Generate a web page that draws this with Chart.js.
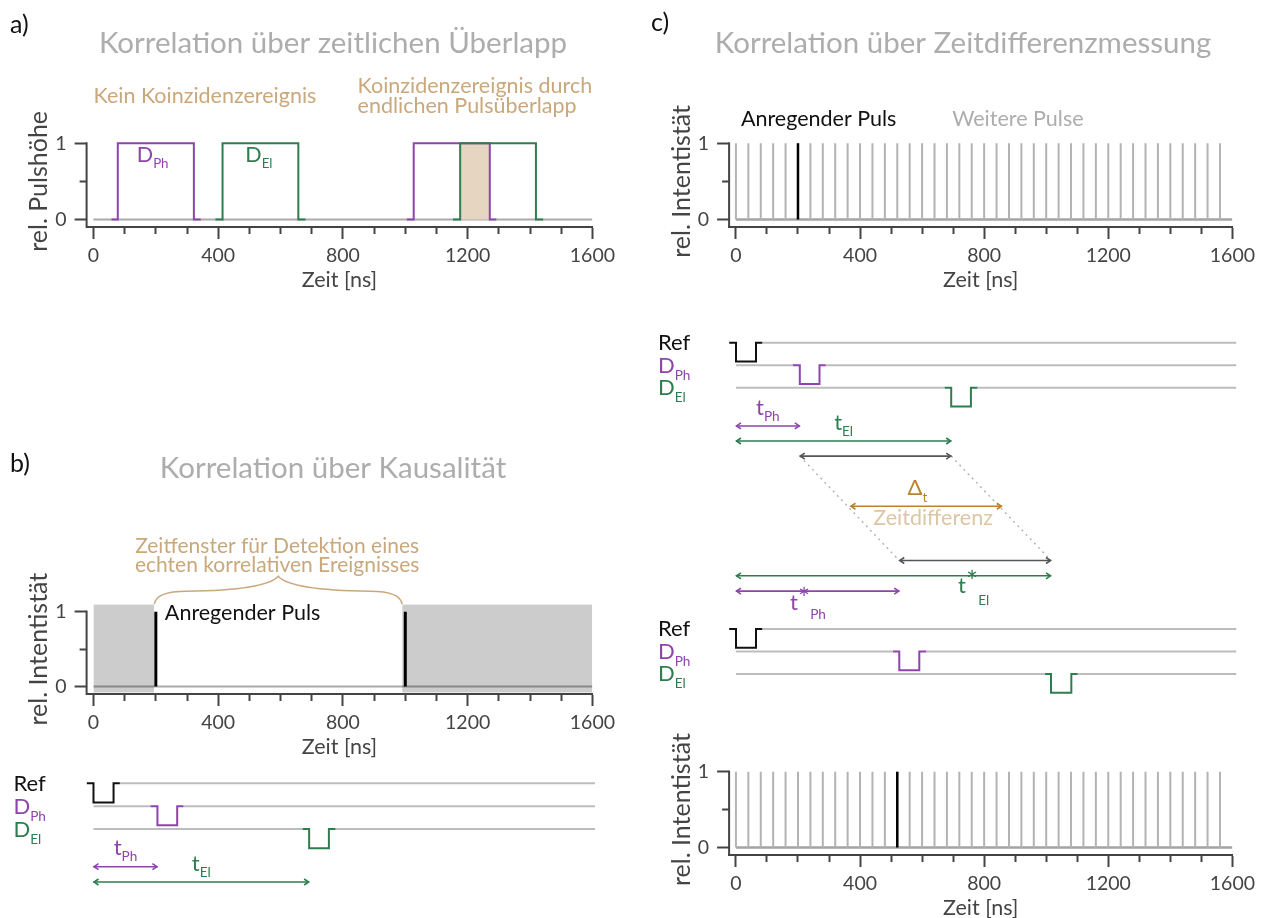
<!DOCTYPE html>
<html>
<head>
<meta charset="utf-8">
<script src="https://cdn.jsdelivr.net/npm/chart.js@4.4.1/dist/chart.umd.min.js"></script>
<style>
  body { margin: 0; width: 1270px; height: 918px; overflow: hidden; background: #fff; }
  canvas { position: absolute; }
</style>
</head>
<body>
<canvas id="chart-a"></canvas>
<canvas id="chart-b"></canvas>
<canvas id="timing-b"></canvas>
<canvas id="chart-c-top"></canvas>
<canvas id="timing-c"></canvas>
<canvas id="chart-c-bottom"></canvas>
<script>
// ---- data -------------------------------------------------------------
const majorTicks = [0, 400, 800, 1200, 1600];
const minorTicks = [0, 100, 200, 300, 400, 500, 600, 700, 800, 900, 1000, 1100, 1200, 1300, 1400, 1500, 1600];
const yTicks = [0, 0.5, 1];

// pulse edges in ns: [start, rise, fall, end]; level holds until next edge
const pulseShape = [0, 1, 0, 0];
const phPulsesA = [[58, 78, 322, 344], [1005, 1027, 1271, 1292]];
const elPulsesA = [[391, 414, 657, 680], [1153, 1176, 1419, 1442]];
const overlapA = [1176, 1271];

// b) excitation pulses and the dead time outside the detection window
const excitationB = [200, 1000];
const shadeB = [[0, 195], [990, 1600]];
const windowB = [195, 990];

// timing diagrams (ns)
const refPulse = [-22, 0, 64, 84];
const phPulse1 = [182, 204, 267, 287];
const elPulse1 = [667, 688, 751, 772];
const phPulse2 = [502, 522, 586, 608];
const elPulse2 = [988, 1007, 1072, 1092];
const deltaT = [366, 850];

// c) pulse train
const pulseTrain = [0, 40, 80, 120, 160, 200, 240, 280, 320, 360, 400, 440, 480, 520, 560, 600,
  640, 680, 720, 760, 800, 840, 880, 920, 960, 1000, 1040, 1080, 1120, 1160, 1200, 1240,
  1280, 1320, 1360, 1400, 1440, 1480, 1520, 1560];
const excitationTop = 200;
const excitationBottom = 520;

// ---- style ------------------------------------------------------------
const FONT = 'Lato, "DejaVu Sans", sans-serif';
const PURPLE = '#8e44ad';
const GREEN = '#2e7d4f';
const TAN = '#c9a87c';
const TAN_LIGHT = '#dcc6a5';
const TAN_DARK = '#b9832f';
const TITLE_GRAY = '#adadad';
const ROW_GRAY = '#bdbdbd';
const AXIS = '#444';
const DEPTH = 0.84;
const TXT = 21.5;   // annotation text size
const TITLE = 29.5;

Chart.defaults.font.family = FONT;
Chart.defaults.color = AXIS;
Chart.defaults.elements.point.radius = 0;
Chart.defaults.elements.line.borderWidth = 2;
Chart.defaults.elements.line.tension = 0;

// ---- helpers ----------------------------------------------------------
function place(id, left, top, w, h) {
  const c = document.getElementById(id);
  c.width = w; c.height = h;
  c.style.left = left + 'px';
  c.style.top = top + 'px';
  return c;
}

const stepPoints = (edges, base, height) => edges.map((t, i) => ({x: t, y: base + pulseShape[i] * height}));
const seg = (x0, x1, y0, y1 = y0) => [{x: x0, y: y0}, {x: x1, y: y1}];
const sticks = times => times.flatMap(t => [{x: t, y: 0}, {x: t, y: 1}, {x: t, y: null}]);
// gray detector line with a gap where the pulse sits
const rowLine = (edges, row) => [[0, edges[0]], [edges[3], 1600]]
  .filter(([a, b]) => b > a)
  .map(([a, b]) => ({data: seg(a, b, row), borderColor: ROW_GRAY, order: 2}));
const pulse = (edges, row, color) => ({data: stepPoints(edges, row, DEPTH), borderColor: color, stepped: true, order: 0});
const arrow = (span, row, color) => ({data: seg(span[0], span[1], row), borderColor: color, borderWidth: 1.6, arrows: true, order: 0});

function drawRich(ctx, l, x, y) {
  const size = l.size || TXT;
  const parts = [{t: l.text, s: size, dy: 0}];
  if (l.sup) parts.push({t: l.sup, s: size * 1.3, dy: -size * 0.05});
  if (l.sub) parts.push({t: l.sub, s: size * 0.62, dy: l.drop !== undefined ? l.drop : size * 0.3});
  parts.forEach(p => { ctx.font = `${p.s}px ${FONT}`; p.w = ctx.measureText(p.t).width; });
  const total = parts.reduce((a, p) => a + p.w, 0);
  let cx = l.align === 'center' ? x - total / 2 : x;
  ctx.fillStyle = l.color || '#111';
  ctx.textAlign = 'left';
  ctx.textBaseline = 'alphabetic';
  parts.forEach(p => {
    ctx.font = `${p.s}px ${FONT}`;
    ctx.fillText(p.t, cx, y + p.dy);
    cx += p.w;
  });
}

function textPlugin(labels) {
  return {
    id: 'texts',
    afterDraw(chart) {
      const {ctx, scales} = chart;
      ctx.save();
      labels.forEach(l => {
        const px = l.left !== undefined ? l.left : scales.x.getPixelForValue(l.x);
        const py = l.top !== undefined ? l.top : scales.y.getPixelForValue(l.y);
        drawRich(ctx, l, px, py);
      });
      ctx.restore();
    }
  };
}

// left spine only spans 0..1 (bottom spine sits at -0.1)
const spinePlugin = {
  id: 'leftSpine',
  afterDraw(chart) {
    const {ctx, chartArea, scales} = chart;
    ctx.save();
    ctx.strokeStyle = AXIS;
    ctx.lineWidth = 2;
    ctx.beginPath();
    ctx.moveTo(chartArea.left, scales.y.getPixelForValue(1) - 1);
    ctx.lineTo(chartArea.left, chartArea.bottom + 1);
    ctx.stroke();
    ctx.restore();
  }
};

const arrowPlugin = {
  id: 'arrowHeads',
  afterDatasetsDraw(chart) {
    const ctx = chart.ctx;
    chart.data.datasets.forEach((ds, i) => {
      if (!ds.arrows) return;
      const pts = chart.getDatasetMeta(i).data;
      const a = pts[0], b = pts[pts.length - 1];
      ctx.save();
      ctx.strokeStyle = ds.borderColor;
      ctx.lineWidth = 1.6;
      [[a, 1], [b, -1]].forEach(([p, dir]) => {
        ctx.beginPath();
        ctx.moveTo(p.x + dir * 5, p.y - 3);
        ctx.lineTo(p.x + dir * 0.5, p.y);
        ctx.lineTo(p.x + dir * 5, p.y + 3);
        ctx.stroke();
      });
      ctx.restore();
    });
  }
};

const bracePlugin = {
  id: 'brace',
  afterDatasetsDraw(chart) {
    const {ctx, scales: {x, y}} = chart;
    const xl = x.getPixelForValue(windowB[0]);
    const xr = x.getPixelForValue(windowB[1]);
    const xm = (xl + xr) / 2;
    const yb = y.getPixelForValue(1.1);
    const ym = yb - 13, yt = yb - 28;
    ctx.save();
    ctx.strokeStyle = TAN;
    ctx.lineWidth = 1.5;
    ctx.beginPath();
    ctx.moveTo(xl, yb);
    ctx.quadraticCurveTo(xl + 2, ym, xl + 32, ym);
    ctx.quadraticCurveTo(xm - 12, ym - 1, xm, yt);
    ctx.quadraticCurveTo(xm + 12, ym - 1, xr - 32, ym);
    ctx.quadraticCurveTo(xr - 2, ym, xr, yb);
    ctx.stroke();
    ctx.restore();
  }
};

// options for a framed plot: area = chart area in canvas pixels
function axisOptions(w, h, area, yTitle, yTitleShift) {
  return {
    responsive: false,
    animation: false,
    layout: {padding: {left: 14, right: w - area.right, top: area.top, bottom: 0}},
    plugins: {legend: {display: false}, tooltip: {enabled: false}},
    scales: {
      x: {
        type: 'linear', min: -22, max: 1600,
        afterBuildTicks: ax => { ax.ticks = minorTicks.map(v => ({value: v})); },
        afterFit: ax => { ax.height = h - area.bottom; },
        ticks: {
          autoSkip: false, maxRotation: 0, padding: 5, color: AXIS, font: {size: 19.5},
          callback: v => majorTicks.includes(v) ? String(v) : ''
        },
        grid: {
          drawOnChartArea: false, tickLength: 12, tickWidth: 2, tickColor: AXIS,
          tickBorderDash: c => majorTicks.includes(c.tick.value) ? [] : [6, 40]
        },
        border: {color: AXIS, width: 2},
        title: {display: true, text: 'Zeit [ns]', color: AXIS, font: {size: 21.5}, padding: {top: 0, bottom: 7}}
      },
      y: {
        type: 'linear', min: -0.1, max: 1.1,
        afterBuildTicks: ax => { ax.ticks = yTicks.map(v => ({value: v})); },
        afterFit: ax => { ax.width = area.left - 14; },
        ticks: {padding: 8, color: AXIS, font: {size: 19.5}, callback: v => Number.isInteger(v) ? String(v) : ''},
        grid: {
          drawOnChartArea: false, tickLength: 12, tickWidth: 2, tickColor: AXIS,
          tickBorderDash: c => Number.isInteger(c.tick.value) ? [] : [0, 5, 7, 40]
        },
        border: {display: false},
        title: {display: true, text: yTitle, color: AXIS, font: {size: 25}, padding: {top: yTitleShift, bottom: 0}}
      }
    }
  };
}

// options for a bare timing diagram: rows stacked downwards
function timingOptions(w, h, left, right, row0, pitch) {
  return {
    responsive: false,
    animation: false,
    layout: {padding: {left: left, right: w - right, top: 0, bottom: 0}},
    plugins: {legend: {display: false}, tooltip: {enabled: false}},
    scales: {
      x: {type: 'linear', display: false, min: -22, max: 1600},
      y: {type: 'linear', display: false, reverse: true, min: -row0 / pitch, max: (h - row0) / pitch}
    }
  };
}

// ---- a) Korrelation über zeitlichen Überlapp ---------------------------
new Chart(place('chart-a', 0, 0, 620, 300), {
  type: 'line',
  data: {
    datasets: [
      ...elPulsesA.map(e => ({data: stepPoints(e, 0, 1), borderColor: GREEN, stepped: true, order: 0})),
      ...phPulsesA.map(e => ({data: stepPoints(e, 0, 1), borderColor: PURPLE, stepped: true, order: 1})),
      {data: seg(overlapA[0], overlapA[1], 1), borderWidth: 0, backgroundColor: '#e6d6c1', fill: {value: 0}, order: 2},
      {data: seg(0, 1600, 0), borderColor: '#aaaaaa', order: 3}
    ]
  },
  options: axisOptions(620, 300, {left: 86.6, right: 595, top: 135.7, bottom: 227}, 'rel. Pulshöhe', 10),
  plugins: [spinePlugin, textPlugin([
    {text: 'a)', left: 10, top: 33, size: 25, color: '#111'},
    {text: 'Korrelation über zeitlichen Überlapp', left: 333, top: 53, size: TITLE, color: TITLE_GRAY, align: 'center'},
    {text: 'Kein Koinzidenzereignis', x: 0, y: 1.53, color: TAN},
    {text: 'Koinzidenzereignis durch', x: 847, y: 1.66, color: TAN},
    {text: 'endlichen Pulsüberlapp', x: 847, y: 1.40, color: TAN},
    {text: 'D', sub: 'Ph', x: 139, y: 0.754, color: PURPLE, drop: 6},
    {text: 'D', sub: 'El', x: 487, y: 0.754, color: GREEN, drop: 6}
  ])]
});

// ---- b) Korrelation über Kausalität ------------------------------------
new Chart(place('chart-b', 0, 440, 620, 327), {
  type: 'line',
  data: {
    datasets: [
      {data: sticks(excitationB), borderColor: '#000', borderWidth: 3, order: 0},
      ...shadeB.map(([a, b]) => ({
        data: seg(a, b, 1.1), borderWidth: 0, backgroundColor: 'rgba(0,0,0,0.2)', fill: {value: -0.08}, order: 1
      })),
      {data: seg(0, 1600, 0), borderColor: '#aaaaaa', order: 2}
    ]
  },
  options: axisOptions(620, 327, {left: 86.6, right: 595, top: 164.2, bottom: 254}, 'rel. Intentistät', 10),
  plugins: [spinePlugin, bracePlugin, textPlugin([
    {text: 'b)', left: 10, top: 32, size: 25, color: '#111'},
    {text: 'Korrelation über Kausalität', left: 333, top: 38, size: TITLE, color: TITLE_GRAY, align: 'center'},
    {text: 'Zeitfenster für Detektion eines', x: 589, y: 1.785, size: 21, color: TAN, align: 'center'},
    {text: 'echten korrelativen Ereignisses', x: 589, y: 1.53, size: 21, color: TAN, align: 'center'},
    {text: 'Anregender Puls', x: 229, y: 0.89, color: '#111'}
  ])]
});

new Chart(place('timing-b', 0, 760, 620, 158), {
  type: 'line',
  data: {
    datasets: [
      pulse(refPulse, 0, '#111'),
      pulse(phPulse1, 1, PURPLE),
      pulse(elPulse1, 2, GREEN),
      ...rowLine(refPulse, 0), ...rowLine(phPulse1, 1), ...rowLine(elPulse1, 2),
      arrow([refPulse[1], phPulse1[1]], 3.65, PURPLE),
      arrow([refPulse[1], elPulse1[1]], 4.32, GREEN)
    ]
  },
  options: timingOptions(620, 158, 86.6, 595, 23.3, 22.85),
  plugins: [arrowPlugin, textPlugin([
    {text: 'Ref', left: 13.5, y: 0.33, size: 22, color: '#111'},
    {text: 'D', sub: 'Ph', left: 13.5, y: 1.33, size: 22, color: PURPLE, drop: 7},
    {text: 'D', sub: 'El', left: 13.5, y: 2.33, size: 22, color: GREEN, drop: 7},
    {text: 't', sub: 'Ph', x: 102, y: 3.14, size: 22, color: PURPLE, align: 'center', drop: 6},
    {text: 't', sub: 'El', x: 344, y: 3.84, size: 22, color: GREEN, align: 'center', drop: 6}
  ])]
});

// ---- c) Korrelation über Zeitdifferenzmessung --------------------------
new Chart(place('chart-c-top', 640, 0, 620, 300), {
  type: 'line',
  data: {
    datasets: [
      {data: sticks([excitationTop]), borderColor: '#000', borderWidth: 2.5, order: 0},
      {data: sticks(pulseTrain), borderColor: '#b3b3b3', borderWidth: 2, order: 1},
      {data: seg(0, 1600, 0), borderColor: '#a3a3a3', borderWidth: 2.5, order: 2}
    ]
  },
  options: axisOptions(620, 300, {left: 89.1, right: 596.5, top: 135.7, bottom: 227}, 'rel. Intentistät', 12.5),
  plugins: [spinePlugin, textPlugin([
    {text: 'c)', left: 11, top: 31, size: 25, color: '#111'},
    {text: 'Korrelation über Zeitdifferenzmessung', left: 323, top: 53, size: TITLE, color: TITLE_GRAY, align: 'center'},
    {text: 'Anregender Puls', x: 16, y: 1.227, color: '#111'},
    {text: 'Weitere Pulse', x: 697, y: 1.227, color: TITLE_GRAY}
  ])]
});

const lowRef = 12.72;
new Chart(place('timing-c', 640, 320, 620, 380), {
  type: 'line',
  data: {
    datasets: [
      pulse(refPulse, 0, '#111'),
      pulse(phPulse1, 1, PURPLE),
      pulse(elPulse1, 2, GREEN),
      ...rowLine(refPulse, 0), ...rowLine(phPulse1, 1), ...rowLine(elPulse1, 2),
      arrow([refPulse[1], phPulse1[1]], 3.70, PURPLE),
      arrow([refPulse[1], elPulse1[1]], 4.37, GREEN),
      arrow([phPulse1[1], elPulse1[1]], 5.04, '#555'),
      arrow(deltaT, 7.27, TAN_DARK),
      arrow([phPulse2[1], elPulse2[1]], 9.68, '#555'),
      arrow([refPulse[1], elPulse2[1]], 10.36, GREEN),
      arrow([refPulse[1], phPulse2[1]], 11.04, PURPLE),
      {data: seg(phPulse1[1], phPulse2[1], 5.04, 9.68), borderColor: '#b0b0b0', borderWidth: 1.4, borderDash: [2, 4], order: 3},
      {data: seg(elPulse1[1], elPulse2[1], 5.04, 9.68), borderColor: '#b0b0b0', borderWidth: 1.4, borderDash: [2, 4], order: 3},
      pulse(refPulse, lowRef, '#111'),
      pulse(phPulse2, lowRef + 1, PURPLE),
      pulse(elPulse2, lowRef + 2, GREEN),
      ...rowLine(refPulse, lowRef), ...rowLine(phPulse2, lowRef + 1), ...rowLine(elPulse2, lowRef + 2)
    ]
  },
  options: timingOptions(620, 380, 89.1, 596.5, 22.7, 22.5),
  plugins: [arrowPlugin, textPlugin([
    {text: 'Ref', left: 18, y: 0.33, size: 22, color: '#111'},
    {text: 'D', sub: 'Ph', left: 18, y: 1.33, size: 22, color: PURPLE, drop: 7},
    {text: 'D', sub: 'El', left: 18, y: 2.33, size: 22, color: GREEN, drop: 7},
    {text: 't', sub: 'Ph', x: 102, y: 3.2, size: 22, color: PURPLE, align: 'center', drop: 6},
    {text: 't', sub: 'El', x: 344, y: 3.87, size: 22, color: GREEN, align: 'center', drop: 6},
    {text: 'Δ', sub: 't', x: 580, y: 6.77, size: 22, color: TAN_DARK, align: 'center', drop: 7},
    {text: 'Zeitdifferenz', x: 630, y: 8.1, color: TAN_LIGHT, align: 'center'},
    {text: 't', sup: '*', sub: 'El', x: 710, y: 11.12, size: 22, color: GREEN, drop: 12},
    {text: 't', sup: '*', sub: 'Ph', x: 173, y: 11.88, size: 22, color: PURPLE, drop: 9},
    {text: 'Ref', left: 18, y: lowRef + 0.33, size: 22, color: '#111'},
    {text: 'D', sub: 'Ph', left: 18, y: lowRef + 1.33, size: 22, color: PURPLE, drop: 7},
    {text: 'D', sub: 'El', left: 18, y: lowRef + 2.33, size: 22, color: GREEN, drop: 7}
  ])]
});

new Chart(place('chart-c-bottom', 640, 600, 620, 328), {
  type: 'line',
  data: {
    datasets: [
      {data: sticks([excitationBottom]), borderColor: '#000', borderWidth: 2.5, order: 0},
      {data: sticks(pulseTrain), borderColor: '#b3b3b3', borderWidth: 2, order: 1},
      {data: seg(0, 1600, 0), borderColor: '#a3a3a3', borderWidth: 2.5, order: 2}
    ]
  },
  options: axisOptions(620, 328, {left: 89.1, right: 596.5, top: 164.1, bottom: 255}, 'rel. Intentistät', 12.5),
  plugins: [spinePlugin]
});
</script>
</body>
</html>
